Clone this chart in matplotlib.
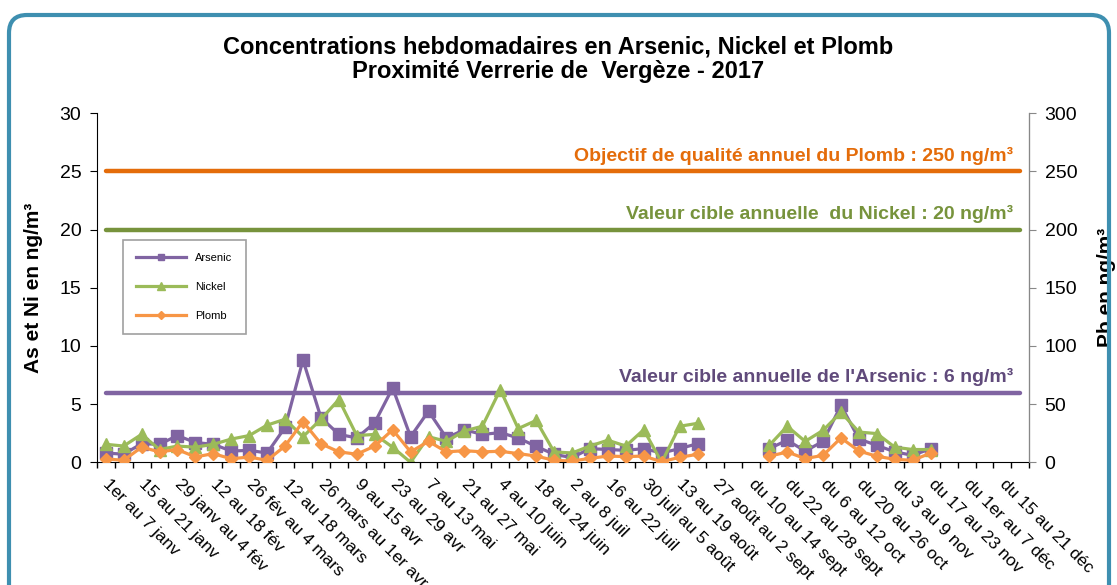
import matplotlib.pyplot as plt
import numpy as np
from matplotlib.patches import FancyBboxPatch

plt.rcParams['font.family'] = ['Liberation Sans', 'DejaVu Sans']

nan = np.nan
# 52 semaines, une valeur par semaine (nan = pas de mesure)
arsenic = [0.8, 0.7, 1.6, 1.55, 2.3, 1.7, 1.55, 0.97, 1.03, 0.8,
           3.0, 8.8, 3.85, 2.4, 2.1, 3.4, 6.4, 2.2, 4.4, 2.1,
           2.8, 2.4, 2.55, 2.1, 1.37, 0.69, 0.4, 1.18, 1.1, 1.03,
           1.18, 0.8, 1.18, 1.6, nan, nan, nan, 1.18, 1.9, 0.97,
           1.8, 4.9, 2.0, 1.46, 0.9, 0.6, 1.18, nan, nan, nan,
           nan, nan]
nickel = [1.55, 1.4, 2.4, 1.1, 1.4, 1.3, 1.55, 2.0, 2.3, 3.2,
          3.7, 2.2, 3.7, 5.4, 2.3, 2.4, 1.3, 0.0, 2.2, 1.8,
          2.7, 3.1, 6.25, 2.9, 3.6, 0.9, 0.8, 1.4, 1.9, 1.4,
          2.8, 0.0, 3.1, 3.35, nan, nan, nan, 1.46, 3.1, 1.8,
          2.75, 4.3, 2.6, 2.47, 1.3, 1.1, 1.1, nan, nan, nan,
          nan, nan]
plomb = [3, 1.7, 13, 9, 11, 4.6, 7.5, 3, 4.6, 1.7,
         14, 35, 16, 9, 7, 14, 28, 9, 18, 9,
         10, 9, 9.5, 7.5, 5.4, 1.7, 1.1, 3.4, 5.4, 4.9,
         5.4, 0.5, 4.3, 6.9, nan, nan, nan, 5.2, 8.9, 3.2,
         6, 21, 9.7, 5.2, 2.6, 1.7, 8, nan, nan, nan,
         nan, nan]

seuil_as = 6      # ng/m3, axe gauche
seuil_ni = 20     # ng/m3, axe gauche
seuil_pb = 250    # ng/m3, axe droit

# une étiquette sur deux est affichée
week_labels = ["1er au 7 janv", "15 au 21 janv", "29 janv au 4 fév", "12 au 18 fév",
               "26 fév au 4 mars", "12 au 18 mars", "26 mars au 1er avr", "9 au 15 avr",
               "23 au 29 avr", "7 au 13 mai", "21 au 27 mai", "4 au 10 juin",
               "18 au 24 juin", "2 au 8 juil", "16 au 22 juil", "30 juil au 5 août",
               "13 au 19 août", "27 août au 2 sept", "du 10 au 14 sept", "du 22 au 28 sept",
               "du 6 au 12 oct", "du 20 au 26 oct", "du 3 au 9 nov", "du 17 au 23 nov",
               "du 1er au 7 déc", "du 15 au 21 déc"]

c_as = "#8064A2"
c_ni = "#9BBB59"
c_pb = "#F79646"

x = np.arange(len(arsenic))

fig = plt.figure(figsize=(11.17, 5.85), dpi=100)
ax = fig.add_axes([0.0866, 0.2097, 0.8349, 0.5966])
ax2 = ax.twinx()

ax.plot(x, [seuil_ni] * len(x), color="#77933C", lw=3.2, solid_capstyle="round")
ax.plot(x, [seuil_as] * len(x), color=c_as, lw=3.2, solid_capstyle="round")
ax2.plot(x, [seuil_pb] * len(x), color="#E46C0A", lw=3.2, solid_capstyle="round")

h1, = ax.plot(x, arsenic, color=c_as, lw=2.3, marker="s", ms=8, label="Arsenic")
h2, = ax.plot(x, nickel, color=c_ni, lw=2.3, marker="^", ms=8.5, label="Nickel")
h3, = ax2.plot(x, plomb, color=c_pb, lw=2.3, marker="D", ms=6.5, label="Plomb")

ax.set_xlim(-0.5, len(x) - 0.5)
ax.set_ylim(0, 30)
ax2.set_ylim(0, 300)
ax.set_yticks(np.arange(0, 31, 5))
ax2.set_yticks(np.arange(0, 301, 50))

# traits aux limites des semaines, étiquettes un peu décalées à droite
ax.set_xticks(np.arange(-0.5, len(x), 1))
ax.set_xticklabels([])
ax.set_xticks(x[::2] + 0.3, minor=True)
ax.set_xticklabels(week_labels, minor=True, rotation=-45, ha="left", va="top",
                   rotation_mode="anchor", fontsize=12.5)
ax.tick_params(axis="x", which="major", direction="out", length=4, width=1)
ax.tick_params(axis="x", which="minor", length=0, pad=10)
ax.tick_params(axis="y", direction="out", length=5, labelsize=14, pad=6)
ax2.tick_params(axis="y", direction="out", length=5, labelsize=14, pad=6, color="#888888")

ax.spines["top"].set_visible(False)
ax2.spines["top"].set_visible(False)
ax2.spines["right"].set_color("#888888")
ax2.spines["left"].set_visible(False)
ax2.spines["bottom"].set_visible(False)

ax.set_ylabel("As et Ni en ng/m³", fontsize=15, fontweight="bold", labelpad=12)
ax2.set_ylabel("Pb en ng/m³", fontsize=15, fontweight="bold", labelpad=14)

ax2.text(50.6, seuil_pb + 6, "Objectif de qualité annuel du Plomb : 250 ng/m³",
         color="#E46C0A", fontsize=14, fontweight="bold", ha="right", va="bottom")
ax.text(50.6, seuil_ni + 0.6, "Valeur cible annuelle  du Nickel : 20 ng/m³",
        color="#77933C", fontsize=14, fontweight="bold", ha="right", va="bottom")
ax.text(50.6, seuil_as + 0.6, "Valeur cible annuelle de l'Arsenic : 6 ng/m³",
        color="#604A7B", fontsize=14, fontweight="bold", ha="right", va="bottom")

leg = ax2.legend([h1, h2, h3], ["Arsenic", "Nickel", "Plomb"], loc="upper left",
                 bbox_to_anchor=(0.028, 0.637), fontsize=8, frameon=True, fancybox=False,
                 edgecolor="#888888", labelspacing=1.7, handlelength=4.5, markerscale=0.6,
                 borderpad=1.2, borderaxespad=0)
leg.get_frame().set_linewidth(1.2)

fig.suptitle("Concentrations hebdomadaires en Arsenic, Nickel et Plomb\n"
             "Proximité Verrerie de  Vergèze - 2017",
             fontsize=17, fontweight="bold", y=0.94, linespacing=1.12)

frame = FancyBboxPatch((9, -30), 1100, 600, boxstyle="round,pad=0,rounding_size=18",
                       transform=None, facecolor="none", edgecolor="#3E8FB0", lw=3)
fig.patches.append(frame)

fig.savefig("out.png", dpi=100)
